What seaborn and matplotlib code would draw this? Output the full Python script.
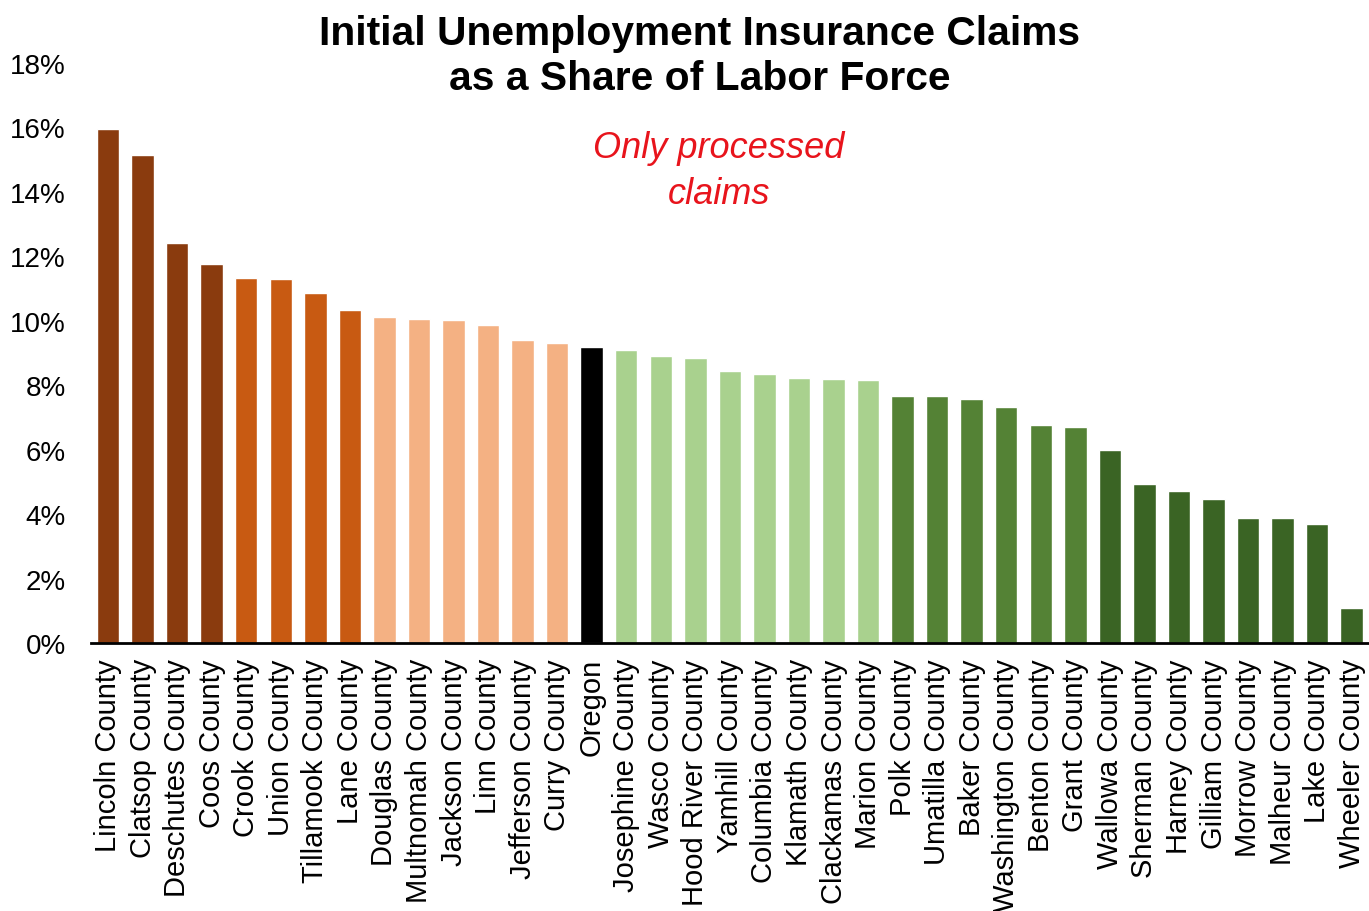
import matplotlib
matplotlib.use("Agg")
import matplotlib.pyplot as plt
from matplotlib.ticker import PercentFormatter
import seaborn as sns
import pandas as pd

counties = [
    "Lincoln County", "Clatsop County", "Deschutes County", "Coos County",
    "Crook County", "Union County", "Tillamook County", "Lane County",
    "Douglas County", "Multnomah County", "Jackson County", "Linn County",
    "Jefferson County", "Curry County", "Oregon", "Josephine County",
    "Wasco County", "Hood River County", "Yamhill County", "Columbia County",
    "Klamath County", "Clackamas County", "Marion County", "Polk County",
    "Umatilla County", "Baker County", "Washington County", "Benton County",
    "Grant County", "Wallowa County", "Sherman County", "Harney County",
    "Gilliam County", "Morrow County", "Malheur County", "Lake County",
    "Wheeler County",
]

claims_share = [
    15.95, 15.15, 12.41, 11.76,
    11.33, 11.30, 10.86, 10.33,
    10.12, 10.06, 10.02, 9.87,
    9.40, 9.31, 9.19, 9.09,
    8.91, 8.85, 8.44, 8.35,
    8.22, 8.19, 8.16, 7.67,
    7.67, 7.57, 7.32, 6.77,
    6.70, 5.99, 4.93, 4.72,
    4.47, 3.88, 3.88, 3.69,
    1.09,
]

# colour group of each bar: 0 dark brown, 1 orange, 2 light orange,
# 3 statewide (black), 4 light green, 5 green, 6 dark green
groups = [0] * 4 + [1] * 4 + [2] * 6 + [3] + [4] * 8 + [5] * 6 + [6] * 8
group_colors = ["#8A3B0E", "#C85A12", "#F4B183", "#000000",
                "#A9D18E", "#548235", "#3A6424"]

df = pd.DataFrame({"county": counties, "share": [v / 100 for v in claims_share]})
palette = {c: group_colors[g] for c, g in zip(counties, groups)}

sns.set_theme(style="white")
plt.rcParams["font.family"] = ["Liberation Sans", "DejaVu Sans"]

fig = plt.figure(figsize=(13.69, 9.12), dpi=100)
ax = fig.add_axes([0.0663, 0.2939, 0.9337, 0.6359])

sns.barplot(data=df, x="county", y="share", hue="county", palette=palette,
            legend=False, width=0.65, saturation=1, ax=ax)

ax.set_xlim(-0.5, len(counties) - 0.5)
ax.set_ylim(0, 0.18)
ax.set_yticks([i / 100 for i in range(0, 19, 2)])
ax.yaxis.set_major_formatter(PercentFormatter(1.0, decimals=0))
ax.set_xlabel("")
ax.set_ylabel("")
ax.tick_params(axis="y", labelsize=20, length=0, pad=18, colors="black")
ax.tick_params(axis="x", labelsize=21, length=0, pad=11, colors="black",
               labelrotation=90)
for s in ["top", "right", "left"]:
    ax.spines[s].set_visible(False)
ax.spines["bottom"].set_color("black")
ax.spines["bottom"].set_linewidth(2)
ax.grid(False)

fig.text(0.511, 0.938, "Initial Unemployment Insurance Claims\nas a Share of Labor Force",
         ha="center", va="center", fontsize=29.3, fontweight="bold",
         linespacing=1.25, color="black")
fig.text(0.525, 0.812, "Only processed\nclaims", ha="center", va="center",
         fontsize=26, fontstyle="italic", color="#E8141C", linespacing=1.4)

fig.savefig("out.png", dpi=100)
